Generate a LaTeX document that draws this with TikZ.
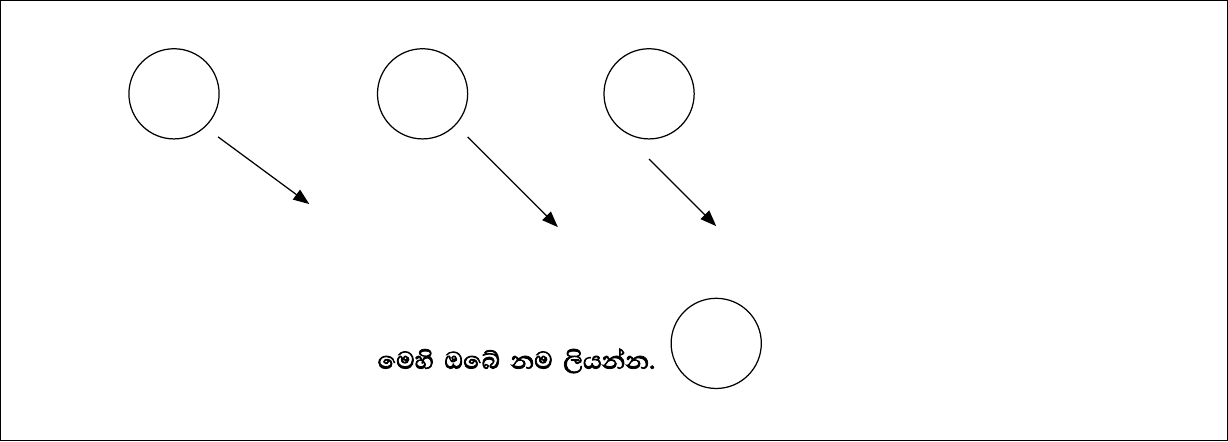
\documentclass[tikz,border=0pt]{standalone}
\usepackage{fontspec}
\newfontfamily\sinhalafont[Script=Sinhala, FakeBold=2.5, WordSpace=1.8]{Abhaya Libre}
\usetikzlibrary{arrows.meta,positioning}
\tikzset{
  ball/.style={draw, circle, minimum size=1.8cm, inner sep=0pt, line width=0.7pt},
  pointer/.style={-{Triangle[length=0.32cm,width=0.24cm]}, line width=0.7pt}
}

\begin{document}
\begin{tikzpicture}[x=0.02cm, y=-0.02cm]
        \draw[line width=0.7pt] (2,2) rectangle (1226,441);
        \node[ball] (c1) at (175,95) {};
        \node[ball] (c2) at (423,95) {};
        \node[ball] (c3) at (649,95) {};
        \node[ball] (c4) at (716,344) {};
        % arrow ends
        \coordinate (s1) at (219,138);
        \coordinate (e1) at (310,205);
        \coordinate (s2) at (468,138);
        \coordinate (e2) at (558,228);
        \coordinate (s3) at (649,160);
        \coordinate (e3) at (716,227);
        \draw[pointer] (s1) -- (e1);
        \draw[pointer] (s2) -- (e2);
        \draw[pointer] (s3) -- (e3);
        \node[left=0.3cm of c4.west, yshift=-0.35cm, inner sep=0pt, font=\sinhalafont\fontsize{17.5}{20}\selectfont] (name) {මෙහි ඔබේ නම ලියන්න.};
      \end{tikzpicture}
\end{document}
